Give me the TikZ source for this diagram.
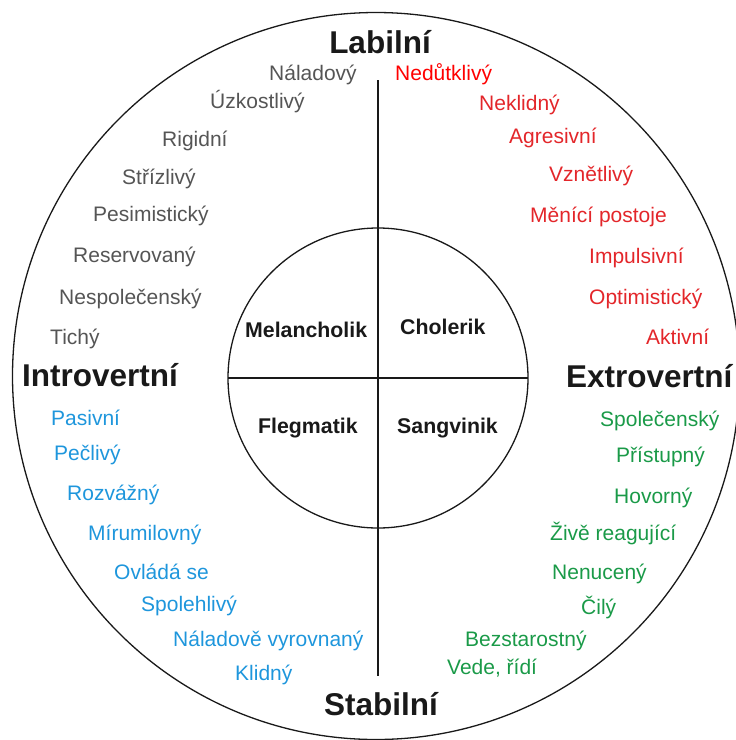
\documentclass[tikz,border=0pt]{standalone}
\usepackage{fontspec}
\setmainfont{Liberation Sans}
\definecolor{grayt}{HTML}{555555}
\definecolor{redt}{HTML}{E3262A}
\definecolor{redb}{HTML}{FF0000}
\definecolor{bluet}{HTML}{1E96DC}
\definecolor{greent}{HTML}{1A9A48}
\tikzset{
  lbl/.style={anchor=base west, inner sep=0pt, font=\fontsize{21}{25}\selectfont},
  axis/.style={anchor=base, inner sep=0pt, font=\fontsize{31.5}{36}\selectfont\bfseries, text=black!90},
  temper/.style={anchor=base west, inner sep=0pt, font=\fontsize{21.3}{25}\selectfont\bfseries, text=black!90},
}
\begin{document}
\begin{tikzpicture}[x=1pt,y=-1pt]
\useasboundingbox (0,0) rectangle (736,740);
\clip (0,0) rectangle (736,740);
\draw[line width=1.3pt, black!90] (376,376) circle[radius=363.5];
\draw[line width=1.3pt, black!90] (378,378) circle[radius=150];
\coordinate (vt) at (378,80);
\coordinate (vb) at (378,676);
\coordinate (hl) at (228,378);
\coordinate (hr) at (528,378);
\draw[line width=2pt, black!90] (vt) -- (vb);
\draw[line width=2pt, black!90] (hl) -- (hr);

% axes
\node[axis] (lab) at (380,53) {Labilní};
\node[axis] (stab) at (381,715) {Stabilní};
\node[axis, anchor=base west] (intro) at (22,386) {Introvertní};
\node[axis, anchor=base west] (extro) at (566,387) {Extrovertní};

% temperaments
\node[temper] (mel) at (245,337) {Melancholik};
\node[temper] (chol) at (400,334) {Cholerik};
\node[temper] (fleg) at (258,433) {Flegmatik};
\node[temper] (sang) at (397,433) {Sangvinik};

% gray
\node[lbl, text=grayt] (g1) at (269,80) {Náladový};
\node[lbl, text=grayt] (g2) at (210,108) {Úzkostlivý};
\node[lbl, text=grayt] (g3) at (162,146) {Rigidní};
\node[lbl, text=grayt] (g4) at (122,184) {Střízlivý};
\node[lbl, text=grayt] (g5) at (93,221) {Pesimistický};
\node[lbl, text=grayt] (g6) at (73,262) {Reservovaný};
\node[lbl, text=grayt] (g7) at (59,304) {Nespolečenský};
\node[lbl, text=grayt] (g8) at (50,344) {Tichý};

% red
\node[lbl, text=redb] (r1) at (395,80) {Nedůtklivý};
\node[lbl, text=redt] (r2) at (479,110) {Neklidný};
\node[lbl, text=redt] (r3) at (509,143) {Agresivní};
\node[lbl, text=redt] (r4) at (549,181) {Vznětlivý};
\node[lbl, text=redt] (r5) at (530,222) {Měnící postoje};
\node[lbl, text=redt] (r6) at (589,263) {Impulsivní};
\node[lbl, text=redt] (r7) at (589,304) {Optimistický};
\node[lbl, text=redt] (r8) at (646,344) {Aktivní};

% blue
\node[lbl, text=bluet] (b1) at (51,425) {Pasivní};
\node[lbl, text=bluet] (b2) at (54,460) {Pečlivý};
\node[lbl, text=bluet] (b3) at (67,500) {Rozvážný};
\node[lbl, text=bluet] (b4) at (88,540) {Mírumilovný};
\node[lbl, text=bluet] (b5) at (114,579) {Ovládá se};
\node[lbl, text=bluet] (b6) at (141,611) {Spolehlivý};
\node[lbl, text=bluet] (b7) at (173,646) {Náladově vyrovnaný};
\node[lbl, text=bluet] (b8) at (235,680) {Klidný};

% green
\node[lbl, text=greent] (e1) at (600,426) {Společenský};
\node[lbl, text=greent] (e2) at (616,462) {Přístupný};
\node[lbl, text=greent] (e3) at (614,503) {Hovorný};
\node[lbl, text=greent] (e4) at (550,540) {Živě reagující};
\node[lbl, text=greent] (e5) at (552,579) {Nenucený};
\node[lbl, text=greent] (e6) at (581,614) {Čilý};
\node[lbl, text=greent] (e7) at (465,646) {Bezstarostný};
\node[lbl, text=greent] (e8) at (447,674) {Vede, řídí};
\end{tikzpicture}
\end{document}
